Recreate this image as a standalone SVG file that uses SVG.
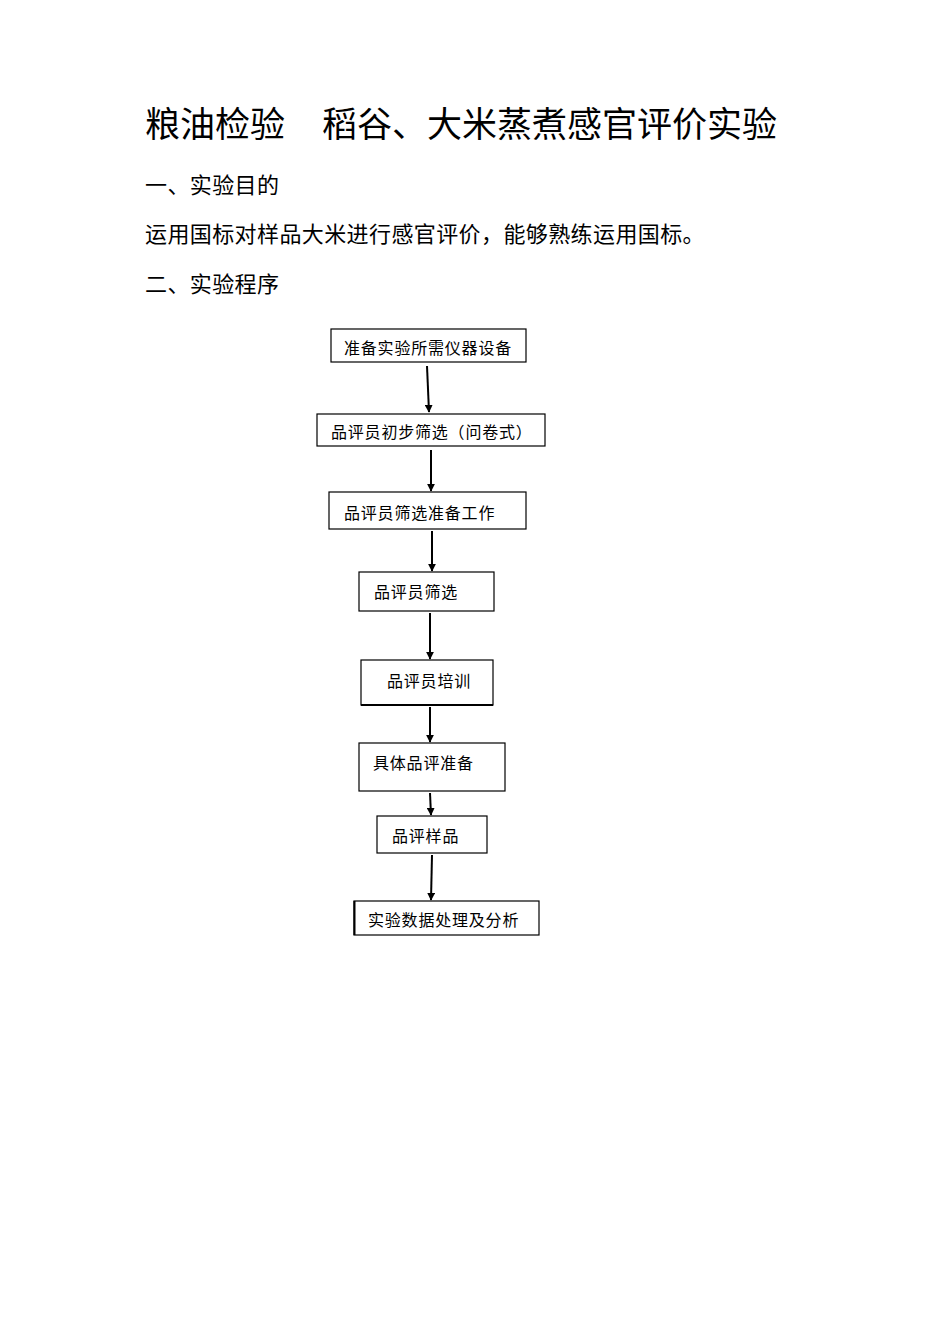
<svg xmlns="http://www.w3.org/2000/svg" width="950" height="1344" viewBox="0 0 950 1344">
<defs>
<style>
text{font-family:"Noto Sans CJK SC","Noto Sans CJK JP",sans-serif;fill:#000;}
.t{font-size:35px;}
.h{font-size:22px;letter-spacing:0.4px;}
.n{font-size:16px;letter-spacing:0.8px;}
.box{fill:#fff;stroke:#000;stroke-width:1.2;}
.c{stroke:#000;stroke-width:2;fill:none;marker-end:url(#ah);}
</style>
<marker id="ah" viewBox="0 0 10 10" refX="9" refY="5" markerWidth="4" markerHeight="4" orient="auto">
<path d="M0,0 L10,5 L0,10 z" fill="#000"/>
</marker>
</defs>
<rect width="950" height="1344" fill="#fff"/>
<text class="t" x="145" y="137">粮油检验</text>
<text class="t" x="322" y="137">稻谷、大米蒸煮感官评价实验</text>
<text class="h" x="145" y="193">一、实验目的</text>
<text class="h" x="145" y="242">运用国标对样品大米进行感官评价，能够熟练运用国标。</text>
<text class="h" x="145" y="292">二、实验程序</text>
<g id="connectors">
<line class="c" x1="427" y1="366" x2="429" y2="412"/>
<line class="c" x1="431" y1="450" x2="431" y2="491"/>
<line class="c" x1="432" y1="531" x2="432" y2="571"/>
<line class="c" x1="430" y1="613" x2="430" y2="659"/>
<line class="c" x1="430" y1="707" x2="430" y2="742"/>
<line class="c" x1="430" y1="793" x2="431" y2="815"/>
<line class="c" x1="432" y1="855" x2="431" y2="900"/>
</g>
<g id="n1"><rect class="box" x="331" y="329" width="195" height="33"/><text class="n" x="344" y="354">准备实验所需仪器设备</text></g>
<g id="n2"><rect class="box" x="317" y="414" width="228" height="32"/><text class="n" x="331" y="438">品评员初步筛选（问卷式）</text></g>
<g id="n3"><rect class="box" x="329" y="492" width="197" height="37"/><text class="n" x="344" y="519">品评员筛选准备工作</text></g>
<g id="n4"><rect class="box" x="359" y="572" width="135" height="39"/><text class="n" x="374" y="598">品评员筛选</text></g>
<g id="n5"><rect class="box" x="361" y="660" width="132" height="45"/><line x1="361" y1="705" x2="493" y2="705" stroke="#000" stroke-width="2"/><text class="n" x="387" y="687">品评员培训</text></g>
<g id="n6"><rect class="box" x="359" y="743" width="146" height="48"/><text class="n" x="373" y="769">具体品评准备</text></g>
<g id="n7"><rect class="box" x="377" y="816" width="110" height="37"/><text class="n" x="392" y="842">品评样品</text></g>
<g id="n8"><rect class="box" x="354" y="901" width="185" height="34"/><line x1="354.5" y1="901" x2="354.5" y2="935" stroke="#000" stroke-width="2"/><text class="n" x="368" y="926">实验数据处理及分析</text></g>
</svg>
